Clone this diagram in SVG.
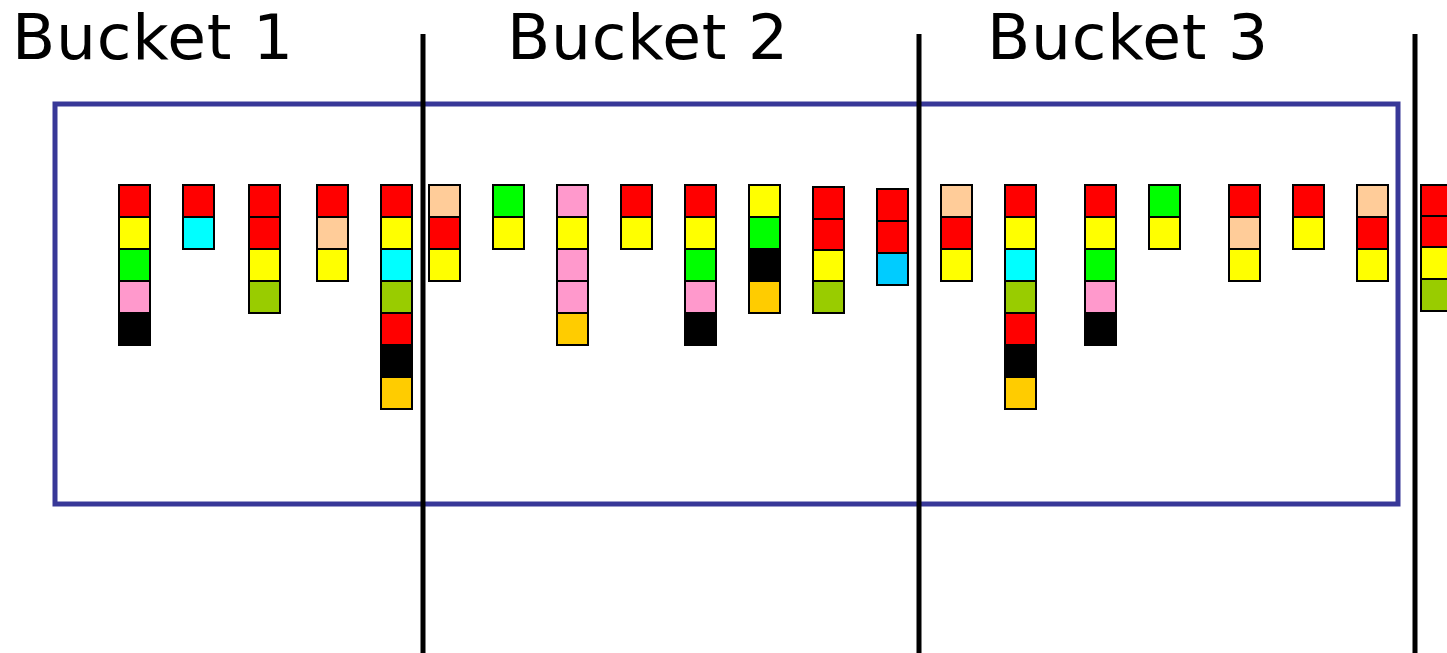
<svg xmlns="http://www.w3.org/2000/svg" width="1447" height="653" viewBox="0 0 1447 653">
<style>
.t{font-family:"DejaVu Sans","Verdana",sans-serif;font-size:63px;letter-spacing:0.8px;fill:#000}
.c rect{stroke:#000;stroke-width:2;width:31px;height:32px}
.r{fill:#FF0000}.y{fill:#FFFF00}.g{fill:#00FF00}.p{fill:#FF99CC}.k{fill:#000000}
.cy{fill:#00FFFF}.pe{fill:#FFCC99}.yg{fill:#99CC00}.o{fill:#FFCC00}.sb{fill:#00CCFF}
.div{stroke:#000;stroke-width:5}
</style>
<rect width="1447" height="653" fill="#fff"/>
<g id="labels">
<text class="t" x="12" y="59">Bucket 1</text>
<text class="t" x="507" y="59">Bucket 2</text>
<text class="t" x="987" y="59">Bucket 3</text>
</g>
<rect id="window" x="55" y="104" width="1343" height="400" fill="none" stroke="#383898" stroke-width="5"/>
<g id="c1" class="c"><rect x="119" y="185" class="r"/><rect x="119" y="217" class="y"/><rect x="119" y="249" class="g"/><rect x="119" y="281" class="p"/><rect x="119" y="313" class="k"/></g>
<g id="c2" class="c"><rect x="183" y="185" class="r"/><rect x="183" y="217" class="cy"/></g>
<g id="c3" class="c"><rect x="249" y="185" class="r"/><rect x="249" y="217" class="r"/><rect x="249" y="249" class="y"/><rect x="249" y="281" class="yg"/></g>
<g id="c4" class="c"><rect x="317" y="185" class="r"/><rect x="317" y="217" class="pe"/><rect x="317" y="249" class="y"/></g>
<g id="c5" class="c"><rect x="381" y="185" class="r"/><rect x="381" y="217" class="y"/><rect x="381" y="249" class="cy"/><rect x="381" y="281" class="yg"/><rect x="381" y="313" class="r"/><rect x="381" y="345" class="k"/><rect x="381" y="377" class="o"/></g>
<g id="c6" class="c"><rect x="429" y="185" class="pe"/><rect x="429" y="217" class="r"/><rect x="429" y="249" class="y"/></g>
<g id="c7" class="c"><rect x="493" y="185" class="g"/><rect x="493" y="217" class="y"/></g>
<g id="c8" class="c"><rect x="557" y="185" class="p"/><rect x="557" y="217" class="y"/><rect x="557" y="249" class="p"/><rect x="557" y="281" class="p"/><rect x="557" y="313" class="o"/></g>
<g id="c9" class="c"><rect x="621" y="185" class="r"/><rect x="621" y="217" class="y"/></g>
<g id="c10" class="c"><rect x="685" y="185" class="r"/><rect x="685" y="217" class="y"/><rect x="685" y="249" class="g"/><rect x="685" y="281" class="p"/><rect x="685" y="313" class="k"/></g>
<g id="c11" class="c"><rect x="749" y="185" class="y"/><rect x="749" y="217" class="g"/><rect x="749" y="249" class="k"/><rect x="749" y="281" class="o"/></g>
<g id="c12" class="c"><rect x="813" y="187" class="r"/><rect x="813" y="219" class="r"/><rect x="813" y="250" class="y"/><rect x="813" y="281" class="yg"/></g>
<g id="c13" class="c"><rect x="877" y="189" class="r"/><rect x="877" y="221" class="r"/><rect x="877" y="253" class="sb"/></g>
<g id="c14" class="c"><rect x="941" y="185" class="pe"/><rect x="941" y="217" class="r"/><rect x="941" y="249" class="y"/></g>
<g id="c15" class="c"><rect x="1005" y="185" class="r"/><rect x="1005" y="217" class="y"/><rect x="1005" y="249" class="cy"/><rect x="1005" y="281" class="yg"/><rect x="1005" y="313" class="r"/><rect x="1005" y="345" class="k"/><rect x="1005" y="377" class="o"/></g>
<g id="c16" class="c"><rect x="1085" y="185" class="r"/><rect x="1085" y="217" class="y"/><rect x="1085" y="249" class="g"/><rect x="1085" y="281" class="p"/><rect x="1085" y="313" class="k"/></g>
<g id="c17" class="c"><rect x="1149" y="185" class="g"/><rect x="1149" y="217" class="y"/></g>
<g id="c18" class="c"><rect x="1229" y="185" class="r"/><rect x="1229" y="217" class="pe"/><rect x="1229" y="249" class="y"/></g>
<g id="c19" class="c"><rect x="1293" y="185" class="r"/><rect x="1293" y="217" class="y"/></g>
<g id="c20" class="c"><rect x="1357" y="185" class="pe"/><rect x="1357" y="217" class="r"/><rect x="1357" y="249" class="y"/></g>
<g id="c21" class="c"><rect x="1421" y="185" class="r"/><rect x="1421" y="216" class="r"/><rect x="1421" y="247" class="y"/><rect x="1421" y="279" class="yg"/></g>
<g id="connectors">
<line class="div" x1="423" y1="34" x2="423" y2="653"/>
<line class="div" x1="919" y1="34" x2="919" y2="653"/>
<line class="div" x1="1415" y1="34" x2="1415" y2="653"/>
</g>
</svg>
